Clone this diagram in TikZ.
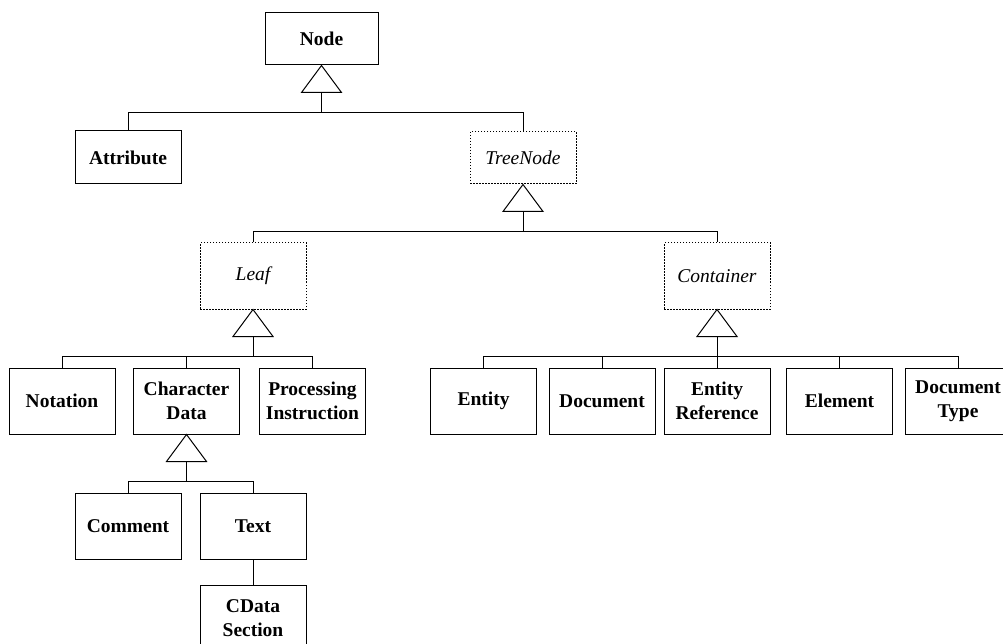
\documentclass[tikz,border=0pt]{standalone}
\usepackage{fontspec}
\setmainfont{Liberation Serif}
\usetikzlibrary{calc}
\begin{document}
\begin{tikzpicture}[x=1pt,y=-1pt,line width=1pt,
  cls/.style={draw, minimum width=106pt, minimum height=66pt, inner sep=0pt,
    align=center, font=\fontsize{19.5}{24}\selectfont\bfseries},
  topcls/.style={cls, minimum height=53pt},
  abstr/.style={cls, dash pattern=on 1.5pt off 1.5pt,
    font=\fontsize{19.5}{24}\selectfont\itshape}]
\useasboundingbox (0,0) rectangle (1003,644);

% classes
\node[cls, minimum width=113pt, minimum height=52pt] (Node) at (321.5,39) {Node};
\node[topcls] (Attribute) at (128,157.5) {Attribute};
\node[abstr, minimum height=52pt] (TreeNode) at (523,158) {TreeNode};
\node[abstr] (Leaf) at (253,276) {Leaf};
\node[abstr] (Container) at (717,276) {Container};

\node[cls] (Notation) at (62,401) {Notation};
\node[cls] (CharData) at (186.5,401) {Character\\Data};
\node[cls] (ProcInstr) at (312.5,401) {Processing\\Instruction};

\node[cls] (Entity) at (483.5,401) {Entity};
\node[cls] (Document) at (602,401) {Document};
\node[cls] (EntityRef) at (717,401) {Entity\\Reference};
\node[cls] (Element) at (839.5,401) {Element};
\node[cls] (DocType) at (958,401) {Document\\Type};

\node[cls] (Comment) at (128,526) {Comment};
\node[cls] (Text) at (253,526) {Text};
\node[cls] (CData) at (253,618) {CData\\Section};

% inheritance triangles and stems
\foreach \p in {Node,TreeNode,Leaf,Container,CharData} {
  \draw (\p.south) -- ++(20,27) -- ++(-40,0) -- cycle;
  \coordinate (\p T) at ($(\p.south)+(0,27)$);
  \draw (\p T) -- ++(0,20) coordinate (\p Bar);
}

% bars
\draw (Attribute.north) |- (NodeBar) -| (TreeNode.north);
\draw (Leaf.north) |- (TreeNodeBar) -| (Container.north);
\draw (Notation.north) |- (LeafBar) -| (ProcInstr.north);
\draw (CharData.north) -- (CharData.north |- LeafBar);
\draw (Entity.north) |- (ContainerBar) -| (DocType.north);
\foreach \c in {Document,EntityRef,Element}
  \draw (\c.north) -- (\c.north |- ContainerBar);
\draw (Comment.north) |- (CharDataBar) -| (Text.north);

\draw (Text) -- (CData);
\end{tikzpicture}
\end{document}
